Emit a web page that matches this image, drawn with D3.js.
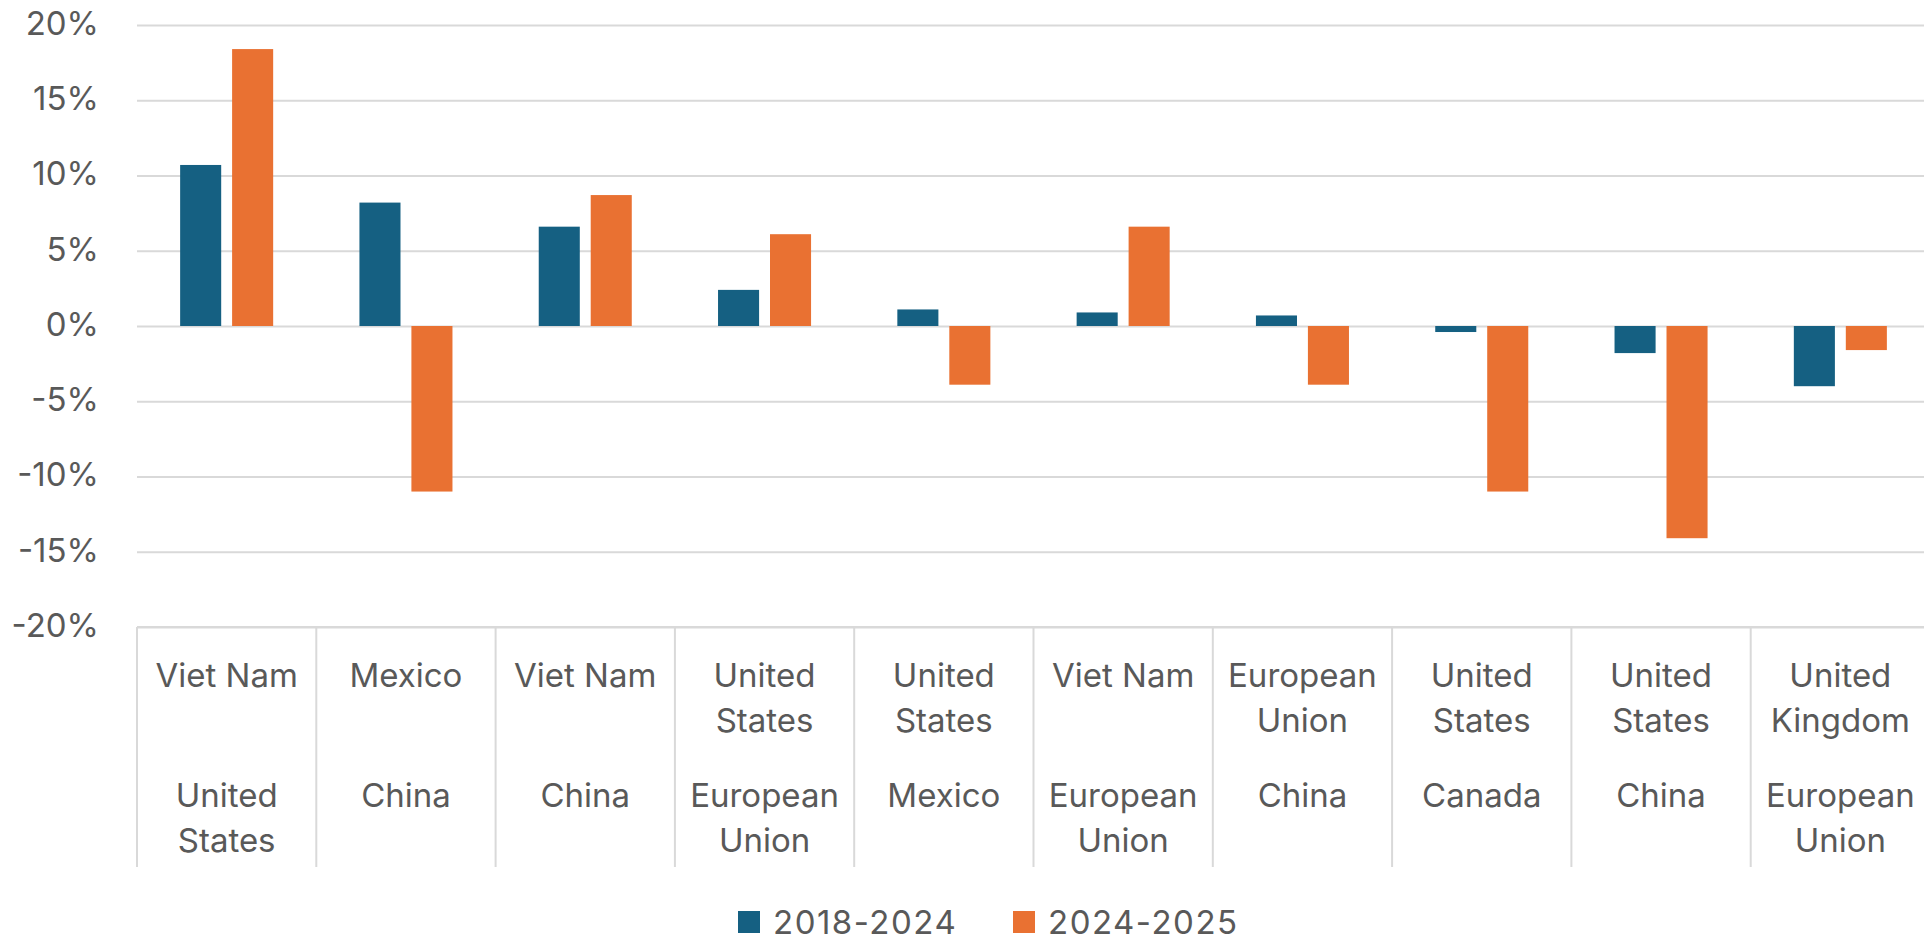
<!DOCTYPE html>
<meta charset="utf-8">
<style>body{margin:0;background:#fff}</style>
<svg width="1924" height="942"></svg>
<script src="https://cdn.jsdelivr.net/npm/d3@7/dist/d3.min.js"></script>
<script>
    // exporter / partner pairs, two series of growth in %
    var exporters = ['Viet Nam', 'Mexico', 'Viet Nam', 'United States', 'United States',
        'Viet Nam', 'European Union', 'United States', 'United States', 'United Kingdom'];
    var partners = ['United States', 'China', 'China', 'European Union', 'Mexico',
        'European Union', 'China', 'Canada', 'China', 'European Union'];
    var seriesNames = ['2018-2024', '2024-2025'];
    var growth1824 = [10.7, 8.2, 6.6, 2.4, 1.1, 0.9, 0.7, -0.4, -1.8, -4.0];
    var growth2425 = [18.4, -11.0, 8.7, 6.1, -3.9, 6.6, -3.9, -11.0, -14.1, -1.6];
    var yTicks = [-20, -15, -10, -5, 0, 5, 10, 15, 20];
    var colors = ['#156082', '#E97132'];

    var font = 'Inter, "DejaVu Sans", sans-serif';
    var textColor = '#595959';
    var gridColor = '#d9d9d9';

    var svgElem = d3.select('svg');
    var margin = { left: 137, top: 25 };
    var width = 1930 - margin.left;
    var height = 627 - margin.top;
    var g = svgElem.append('g')
        .attr('transform', `translate(${margin.left}, ${margin.top})`);

    var data = exporters.map(function (e, i) {
        return { i: i, values: [growth1824[i], growth2425[i]] };
    });

    var x0 = d3.scaleBand().domain(d3.range(data.length)).range([0, width]);
    var x1 = d3.scaleBand().domain([0, 1]).range([0, x0.bandwidth()])
        .paddingInner(0.21).paddingOuter(0.83);
    var y = d3.scaleLinear().domain([-20, 20]).range([height, 0]);

    // gridlines + y labels
    var yAxis = g.append('g')
        .call(d3.axisLeft(y).tickValues(yTicks).tickSize(-width).tickPadding(38)
            .tickFormat(function (d) { return d + '%'; }));
    yAxis.select('.domain').remove();
    yAxis.selectAll('line').attr('stroke', gridColor).attr('stroke-width', 2);
    yAxis.selectAll('text')
        .attr('fill', textColor)
        .style('font-family', font)
        .style('font-size', '33px')
        .attr('dy', '0.28em');

    // bars
    var groups = g.selectAll('.grp')
        .data(data)
        .enter().append('g')
        .attr('class', 'grp')
        .attr('transform', function (d) { return `translate(${x0(d.i)},0)`; });
    groups.selectAll('rect')
        .data(function (d) { return d.values.map(function (v, k) { return { k: k, v: v }; }); })
        .enter().append('rect')
        .attr('x', function (d) { return x1(d.k); })
        .attr('width', x1.bandwidth())
        .attr('y', function (d) { return y(Math.max(0, d.v)); })
        .attr('height', function (d) { return Math.abs(y(d.v) - y(0)); })
        .attr('fill', function (d) { return colors[d.k]; });

    // category axis: bottom line with dividers
    var catH = 240;
    var cat = g.append('g').attr('transform', `translate(0, ${height})`);
    cat.append('line')
        .attr('x1', 0).attr('x2', width)
        .attr('stroke', gridColor).attr('stroke-width', 2);
    cat.selectAll('.div')
        .data(d3.range(data.length + 1))
        .enter().append('line')
        .attr('x1', function (i) { return i * x0.step(); })
        .attr('x2', function (i) { return i * x0.step(); })
        .attr('y1', 0).attr('y2', catH)
        .attr('stroke', gridColor).attr('stroke-width', 2);

    // wrapped two-level labels
    function wrapLabel(sel, str, x, y0) {
        var t = sel.append('text')
            .attr('x', x).attr('y', y0)
            .attr('text-anchor', 'middle')
            .attr('fill', textColor)
            .style('font-family', font)
            .style('font-size', '33px')
            .text(str);
        if (t.node().getComputedTextLength() > x0.bandwidth() - 8) {
            var words = str.split(' ');
            t.text(words[0]);
            t.append('tspan').attr('x', x).attr('dy', 45).text(words.slice(1).join(' '));
        }
    }
    data.forEach(function (d) {
        var cx = x0(d.i) + x0.bandwidth() / 2;
        wrapLabel(cat, exporters[d.i], cx, 60);
        wrapLabel(cat, partners[d.i], cx, 180);
    });

    // legend
    var legend = svgElem.append('g').attr('transform', 'translate(738, 922)');
    var items = legend.selectAll('.item')
        .data(seriesNames)
        .enter().append('g')
        .attr('transform', function (d, i) { return `translate(${i * 275}, 0)`; });
    items.append('rect')
        .attr('x', 0).attr('y', -11)
        .attr('width', 22).attr('height', 22)
        .attr('fill', function (d, i) { return colors[i]; });
    items.append('text')
        .attr('x', 35).attr('y', 12)
        .attr('fill', textColor)
        .style('font-family', font)
        .style('font-size', '33px')
        .style('letter-spacing', '1.5px')
        .text(function (d) { return d; });
</script>
